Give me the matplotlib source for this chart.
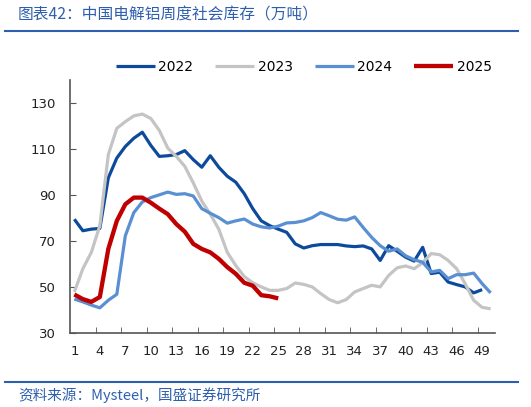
import matplotlib
matplotlib.use("Agg")
import matplotlib.pyplot as plt
from matplotlib.lines import Line2D
import numpy as np

plt.rcParams['font.family'] = ['DejaVu Sans', 'Noto Sans CJK SC']

# weekly social inventory of electrolytic aluminium, 10k tonnes
y2022 = [79.4, 74.4, 75.1, 75.4, 97.4, 106, 111, 114.6, 117.2, 111.5,
         106.7, 107, 107.5, 109.2, 105.3, 102, 107, 102, 98.1, 95.5,
         90.5, 84, 78.7, 76.6, 75.1, 73.7, 68.7, 66.9, 67.9, 68.4,
         68.4, 68.4, 67.8, 67.5, 67.8, 66.5, 61.5, 67.9, 65.5, 62.9,
         61.2, 67.2, 55.8, 56.4, 52.1, 51, 50, 47.4, 48.8]
y2023 = [47.8, 57.9, 65, 76.6, 107.5, 118.9, 121.8, 124.3, 125.1, 123.2,
         118, 110.3, 106.7, 102.4, 95.2, 87.3, 81.6, 75.1, 65, 59.3,
         54.5, 51.8, 50, 48.5, 48.5, 49.3, 51.7, 51.1, 50, 47.1,
         44.5, 43.1, 44.5, 47.8, 49.3, 50.7, 50, 55, 58.3, 59.1,
         57.9, 60.5, 64.5, 64, 61.5, 57.9, 51.4, 44.2, 41.1, 40.5]
y2024 = [44.7, 43.5, 42.1, 40.9, 44.2, 46.8, 72.2, 82.3, 86.9, 88.8,
         90, 91.2, 90.2, 90.5, 89.5, 84, 82, 80.1, 77.7, 78.7,
         79.5, 77.3, 76.1, 75.6, 76.4, 77.8, 78, 78.7, 80.1, 82.3,
         80.9, 79.4, 79, 80.4, 75.8, 71.5, 67.9, 65.5, 66.5, 63.5,
         61.8, 60.7, 56.5, 57.2, 53.6, 55.3, 55.3, 56, 51.4, 47.4]
y2025 = [46.7, 44.7, 43.5, 45.6, 66.5, 78.7, 85.9, 88.8, 88.8, 86.6,
         84, 81.6, 77.3, 74, 68.7, 66.5, 65, 62.2, 58.6, 55.7,
         51.8, 50.5, 46.4, 45.9, 45]

series = [("2022", y2022, "#0D4A9C", 2.3),
          ("2023", y2023, "#C4C4C4", 2.3),
          ("2024", y2024, "#5A8FD2", 2.3),
          ("2025", y2025, "#C00000", 3.1)]

xlabels = list(range(1, 50, 3))

fig = plt.figure(figsize=(5.31, 4.07), dpi=100)
ax = fig.add_axes([0.132, 0.182, 0.800, 0.622])

for name, vals, col, lw in series:
    wk = np.arange(1, len(vals) + 1)
    ax.plot(wk, vals, color=col, lw=lw, label=name, solid_capstyle='butt')

ax.set_xlim(0.5, 50.5)
ax.set_ylim(30, 140)
ax.set_yticks(range(30, 131, 20))
ax.set_xticks(xlabels)
ax.set_xticks(np.arange(3.5, 50, 3), minor=True)
ax.tick_params(axis='x', which='major', length=0, pad=9, labelsize=9.5, colors='#222222')
ax.tick_params(axis='x', which='minor', direction='in', length=4, color='#555555')
ax.tick_params(axis='y', direction='in', length=4, color='#555555', labelsize=9.5,
               labelcolor='#222222', pad=10)
for s in ['top', 'right']:
    ax.spines[s].set_visible(False)
for s in ['left', 'bottom']:
    ax.spines[s].set_color('#555555')
    ax.spines[s].set_linewidth(1.2)

fig.legend(loc='center', bbox_to_anchor=(0.572, 0.835), ncol=4, frameon=False,
           fontsize=10, handlelength=2.8, handletextpad=0.25, columnspacing=1.6)

blue = '#2E5FAE'
fig.text(0.034, 0.964, "图表42：中国电解铝周度社会库存（万吨）", fontsize=11.3, color=blue,
         style='italic', va='center', ha='left', family=['Noto Sans CJK SC', 'DejaVu Sans'])
fig.add_artist(Line2D([0.01, 0.976], [0.924, 0.924], color=blue, lw=1.5))
fig.add_artist(Line2D([0.01, 0.976], [0.0614, 0.0614], color=blue, lw=1.5))
fig.text(0.034, 0.03, "资料来源：Mysteel，国盛证券研究所", fontsize=10.5, color=blue,
         style='italic', va='center', ha='left', family=['Noto Sans CJK SC', 'DejaVu Sans'])

fig.savefig("out.png", dpi=100)
